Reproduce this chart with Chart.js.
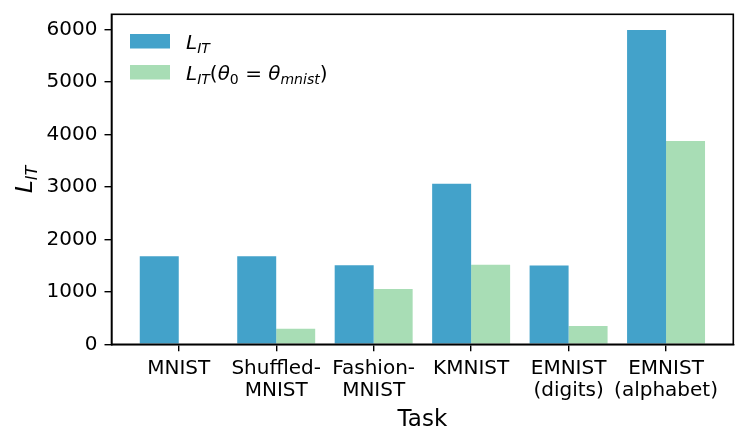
<!DOCTYPE html>
<html>
<head>
<meta charset="utf-8">
<script src="https://cdn.jsdelivr.net/npm/chart.js@4/dist/chart.umd.min.js"></script>
<style>
  html, body { margin: 0; padding: 0; background: #fff; }
  canvas { display: block; }
</style>
</head>
<body>
<canvas id="c" width="748" height="448"></canvas>
<script>
// ---- data ----
const categories = [
  ["MNIST"],
  ["Shuffled-", "MNIST"],
  ["Fashion-", "MNIST"],
  ["KMNIST"],
  ["EMNIST", "(digits)"],
  ["EMNIST", "(alphabet)"]
];
const lossScratch   = [1676, 1676, 1505, 3059, 1500, 5987];
const lossMnistInit = [0, 297, 1053, 1516, 349, 3872];
const yTicks = [0, 1000, 2000, 3000, 4000, 5000, 6000];

// rich-text label pieces (mathtext-like)
const seriesLabels = [
  [{t: "L", i: true}, {t: "IT", i: true, sub: true}],
  [{t: "L", i: true}, {t: "IT", i: true, sub: true}, {t: "("}, {t: "θ", i: true},
   {t: "0", sub: true}, {t: " = "}, {t: "θ", i: true}, {t: "mnist", i: true, sub: true}, {t: ")"}]
];
const yTitle = [{t: "L", i: true}, {t: "IT", i: true, sub: true}];
const xTitle = "Task";

const FONT = "'DejaVu Sans', sans-serif";
const colors = ["#43a2ca", "#a8ddb5"];

function fontFor(run, size) {
  const s = run.sub ? size * 0.7 : size;
  return (run.i ? "italic " : "") + s + "px " + FONT;
}
function measureRich(ctx, runs, size) {
  let w = 0;
  for (const r of runs) { ctx.font = fontFor(r, size); w += ctx.measureText(r.t).width; }
  return w;
}
function drawRich(ctx, runs, x, y, size) {
  ctx.textBaseline = "alphabetic";
  ctx.textAlign = "left";
  for (const r of runs) {
    ctx.font = fontFor(r, size);
    const dy = r.sub ? size * 0.22 : 0;
    ctx.fillText(r.t, x, y + dy);
    x += ctx.measureText(r.t).width;
  }
}

const decorPlugin = {
  id: "decor",
  afterDraw(chart) {
    const ctx = chart.ctx;
    const a = chart.chartArea;
    ctx.save();
    ctx.strokeStyle = "#000";
    ctx.lineWidth = 1.6;
    ctx.strokeRect(a.left, a.top, a.right - a.left, a.bottom - a.top);
    ctx.fillStyle = "#000";
    ctx.font = "23px " + FONT;
    ctx.textAlign = "center";
    ctx.textBaseline = "middle";
    ctx.fillText(xTitle, (a.left + a.right) / 2, 420);
    const ts = 23;
    const w = measureRich(ctx, yTitle, ts);
    ctx.translate(32, (a.top + a.bottom) / 2);
    ctx.rotate(-Math.PI / 2);
    drawRich(ctx, yTitle, -w / 2, 0, ts);
    ctx.restore();
    ctx.save();
    const lx = 130, ly = [34, 65], pw = 40, ph = 14.5;
    chart.data.datasets.forEach((ds, k) => {
      ctx.fillStyle = ds.backgroundColor;
      ctx.fillRect(lx, ly[k], pw, ph);
      ctx.fillStyle = "#000";
      drawRich(ctx, seriesLabels[k], 186, ly[k] + 15, 20);
    });
    ctx.restore();
  }
};

new Chart(document.getElementById("c"), {
  type: "bar",
  data: {
    datasets: [
      { label: "L_IT", data: lossScratch.map((v, i) => ({x: i, y: v})),
        backgroundColor: colors[0], borderWidth: 0 },
      { label: "L_IT(theta_0 = theta_mnist)", data: lossMnistInit.map((v, i) => ({x: i, y: v})),
        backgroundColor: colors[1], borderWidth: 0 }
    ]
  },
  options: {
    responsive: false,
    animation: false,
    devicePixelRatio: 1,
    categoryPercentage: 0.8,
    barPercentage: 1.0,
    layout: { padding: { left: 0, right: 14.7, top: 14.3, bottom: 0 } },
    plugins: { legend: { display: false }, tooltip: { enabled: false } },
    scales: {
      x: {
        type: "linear",
        offset: false,
        min: -0.69,
        max: categories.length - 1 + 0.69,
        afterBuildTicks(scale) { scale.ticks = categories.map((c, i) => ({value: i})); },
        afterFit(scale) {
          scale.height = 103.7;
          scale.paddingLeft = 0; scale.paddingRight = 0;
        },
        grid: { display: true, drawOnChartArea: false, drawTicks: true, tickLength: 7,
                color: "#000", lineWidth: 1.4, offset: false },
        border: { display: true, color: "#000", width: 1.6 },
        ticks: {
          autoSkip: false, maxRotation: 0, minRotation: 0, padding: 6,
          color: "#000", font: { family: FONT, size: 20, lineHeight: 1.1 },
          callback: (v) => categories[v]
        }
      },
      y: {
        min: 0,
        max: 6286,
        afterBuildTicks(scale) { scale.ticks = yTicks.map(v => ({value: v})); },
        afterFit(scale) {
          scale.width = 111.5;
          scale.paddingTop = 0; scale.paddingBottom = 0;
        },
        grid: { display: true, drawOnChartArea: false, drawTicks: true, tickLength: 7,
                color: "#000", lineWidth: 1.4 },
        border: { display: true, color: "#000", width: 1.6 },
        ticks: { padding: 7, color: "#000", font: { family: FONT, size: 20 },
                 callback: (v) => String(v) }
      }
    }
  },
  plugins: [decorPlugin]
});
</script>
</body>
</html>
